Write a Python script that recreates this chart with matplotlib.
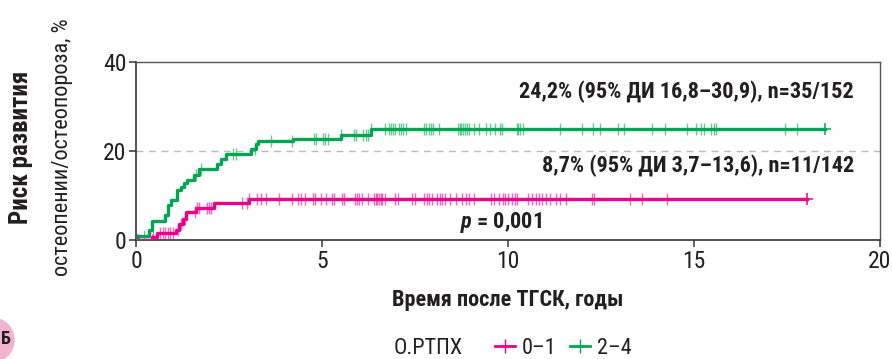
import numpy as np
import matplotlib.pyplot as plt
from matplotlib.lines import Line2D
from matplotlib.patches import Ellipse

plt.rcParams['font.family'] = ['Roboto Condensed', 'DejaVu Sans']
plt.rcParams['mathtext.fontset'] = 'custom'
plt.rcParams['mathtext.bfit'] = 'Roboto Condensed:bold:italic'
plt.rcParams['mathtext.it'] = 'Roboto Condensed:italic'

PINK = '#EC008C'
GREEN = '#00A651'
TXT = '#231F20'

# ступенчатые кривые (годы, %)
pink_t = [0, 0.44, 0.57, 1.07, 1.16, 1.25, 1.34, 1.61, 2.10, 3.05, 18.03]
pink_v = [0, 0.7, 1.5, 2.2, 3.7, 4.8, 6.3, 7.1, 8.4, 9.2, 9.2]
green_t = [0, 0.05, 0.35, 0.44, 0.78, 0.87, 0.93, 1.11, 1.20, 1.28, 1.38, 1.56,
           1.70, 2.19, 2.28, 2.41, 3.09, 3.22, 3.27, 4.21, 5.51, 6.32, 18.52]
green_v = [0, 1.0, 2.2, 4.3, 5.6, 7.8, 8.9, 11.2, 11.9, 12.7, 13.4, 14.5,
           16.0, 17.1, 18.3, 19.4, 20.5, 21.6, 22.2, 22.7, 23.5, 25.0, 25.0]

# цензурированные наблюдения (годы)
pink_cens = [0.02, 0.05, 0.42, 0.45, 0.65, 0.72, 0.78, 0.85, 0.92, 1.0, 1.12, 1.22,
             1.32, 1.58, 1.63, 1.68, 1.92, 1.97, 2.02, 2.85, 2.98, 3.05, 3.25,
             3.35, 3.50, 3.85, 4.18, 4.35, 4.44, 4.53, 4.75, 4.80, 4.98, 5.10,
             5.28, 5.32, 5.55, 5.60, 5.90, 5.95, 6.00, 6.08, 6.23, 6.40, 6.45,
             6.49, 6.53, 6.58, 6.62, 6.68, 6.95, 7.05, 7.43, 7.50, 7.75, 7.82,
             7.88, 7.95, 8.08, 8.17, 8.22, 8.30, 8.43, 8.59, 8.77, 8.86, 8.95,
             9.09, 9.54, 9.63, 9.76, 9.87, 9.92, 10.01, 10.10, 10.20, 10.24,
             10.55, 10.65, 10.74, 10.83, 10.92, 11.01, 11.14, 11.28, 11.41, 11.55,
             12.26, 12.30, 13.29, 13.60, 14.28]
green_cens = [0.03, 0.22, 1.60, 1.74, 2.60, 2.70, 3.20, 3.63, 4.20, 4.79, 4.84,
              5.02, 5.08, 5.15, 5.51, 5.85, 5.92, 6.10, 6.17, 6.23, 6.32, 6.68,
              6.81, 6.85, 6.90, 6.97, 7.06, 7.12, 7.19, 7.26, 7.75, 7.80, 7.87,
              7.93, 7.99, 8.15, 8.66, 8.70, 8.75, 8.80, 8.84, 8.89, 8.96, 9.09,
              9.22, 9.41, 9.52, 9.66, 9.79, 9.84, 10.23, 10.26, 10.33, 10.41,
              11.39, 11.98, 12.29, 12.47, 12.97, 13.11, 13.88, 14.22, 14.80,
              15.05, 15.18, 15.26, 15.47, 15.53, 15.60, 17.44, 17.77]


def step_value(ts, vs, x):
    i = np.searchsorted(ts, x, side='right') - 1
    return np.array(vs)[i]


fig = plt.figure(figsize=(8.92, 3.59), dpi=100)
ax = fig.add_axes([0.1525, 0.3315, 0.834, 0.4958])

ax.axhline(20, color='#bbbbbb', linestyle=(0, (5, 4)), linewidth=1.0, zorder=1)

for ts, vs, cens, col in [(pink_t, pink_v, pink_cens, PINK),
                          (green_t, green_v, green_cens, GREEN)]:
    ax.step(ts, vs, where='post', color=col, linewidth=2.4, zorder=3)
    cy = step_value(ts, vs, np.array(cens))
    ax.plot(cens, cy, linestyle='none', marker='|', markersize=9,
            markeredgewidth=1.0, color=col, alpha=0.6, zorder=4)
    ax.plot([ts[-1]], [vs[-1]], linestyle='none', marker='+', markersize=9,
            markeredgewidth=1.1, color=col, zorder=4)

ax.set_xlim(0, 20)
ax.set_ylim(0, 40)
ax.set_xticks([0, 5, 10, 15, 20])
ax.set_yticks([0, 20, 40])
ax.tick_params(labelsize=17, length=5, width=1.2, color='#444444', pad=2,
               labelcolor=TXT)
for s in ['left', 'bottom']:
    ax.spines[s].set_color('#333333')
    ax.spines[s].set_linewidth(1.2)
for s in ['top', 'right']:
    ax.spines[s].set_color('#555555')
    ax.spines[s].set_linewidth(1.0)

ax.text(19.3, 33.3, '24,2% (95% ДИ 16,8–30,9), n=35/152', ha='right', va='center',
        fontsize=16, fontweight='bold', color=TXT)
ax.text(19.3, 16.6, '8,7% (95% ДИ 3,7–13,6), n=11/142', ha='right', va='center',
        fontsize=16, fontweight='bold', color=TXT)
ax.text(9.8, 4.0, '$\\mathbfit{p}$ = 0,001', ha='center', va='center',
        fontsize=16, fontweight='bold', color=TXT)

fig.text(0.0235, 0.59, 'Риск развития', rotation=90, ha='center', va='center',
         fontsize=18, fontweight='bold', color=TXT)
fig.text(0.0705, 0.59, 'остеопении/остеопороза, %', rotation=90, ha='center',
         va='center', fontsize=16, color=TXT)

fig.text(0.5695, 0.165, 'Время после ТГСК, годы', ha='center', va='center',
         fontsize=16, fontweight='bold', color=TXT)

fig.text(0.480, 0.03, 'О.РТПХ', ha='center', va='center', fontsize=16,
         color=TXT)
handles = [Line2D([], [], color=PINK, marker='+', markersize=10, linewidth=2),
           Line2D([], [], color=GREEN, marker='+', markersize=10, linewidth=2)]
fig.legend(handles, ['0–1', '2–4'], ncol=2, frameon=False, fontsize=16,
           loc='center left', bbox_to_anchor=(0.543, 0.03), handlelength=0.9,
           handletextpad=0.3, columnspacing=0.6, borderpad=0, labelcolor=TXT)

circ = Ellipse((-8 / 892, 1 - 340 / 359), 44 / 892, 44 / 359,
               transform=fig.transFigure, color='#F0B3D2', zorder=0)
fig.patches.append(circ)
fig.text(0.001, 0.055, 'Б', ha='left', va='center', fontsize=13,
         fontweight='bold', color=TXT)

fig.savefig('out.png', dpi=100)
